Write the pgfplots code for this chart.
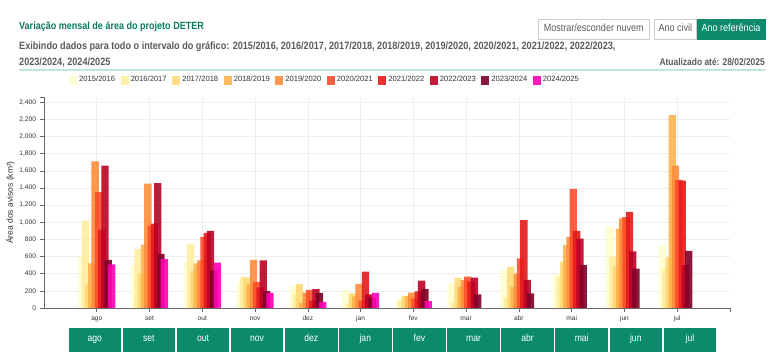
\documentclass[border=0pt]{standalone}
\usepackage{fontspec}
\setmainfont{Liberation Sans}
\newfontfamily\cond{Liberation Sans}[FakeStretch=0.86]
\usepackage{pgfplots}
\pgfplotsset{compat=1.18}
\usepackage{pgfplotstable}

\definecolor{c1}{HTML}{FFFFCC}
\definecolor{c2}{HTML}{FFEDA0}
\definecolor{c3}{HTML}{FED976}
\definecolor{c4}{HTML}{FEB24C}
\definecolor{c5}{HTML}{FD8D3C}
\definecolor{c6}{HTML}{FC4E2A}
\definecolor{c7}{HTML}{E31A1C}
\definecolor{c8}{HTML}{BD0026}
\definecolor{c9}{HTML}{800026}
\definecolor{c10}{HTML}{FF00B4}
\definecolor{tgreen}{HTML}{0B7A5E}
\definecolor{bgreen}{HTML}{0C8A6C}
\definecolor{subgray}{HTML}{5A5A5A}
\definecolor{tealline}{HTML}{BFE6D8}
\definecolor{gridc}{HTML}{EEEEEE}
\definecolor{axc}{HTML}{666666}
\definecolor{txt}{HTML}{333333}

\pgfplotstableread{
m a b c d e f g h i j
0 590 1020 275 520 1710 1350 915 1660 560 510
1 490 690 400 740 1450 960 985 1455 630 570
2 535 750 435 520 555 830 875 900 435 530
3 295 365 355 275 560 305 240 555 200 175
4 255 160 280 60 180 210 85 220 175 70
5 215 55 170 135 280 85 425 160 120 175
6 100 95 140 140 180 110 195 320 220 80
7 290 65 350 245 325 365 310 355 160 nan
8 440 125 480 245 400 580 1025 328 170 nan
9 395 360 545 735 830 1390 900 810 500 nan
10 950 600 485 925 1045 1060 1120 660 460 nan
11 735 450 590 2250 1660 1495 1485 500 665 nan
}\data

\begin{document}
\begin{tikzpicture}[x=1pt,y=1pt]
\path[use as bounding box] (0,0) rectangle (774,352);
% header
\node[anchor=base west, inner sep=0, text=tgreen, font=\cond\bfseries\fontsize{10.5}{12}\selectfont] at (19,322) {Variação mensal de área do projeto DETER};
\node[anchor=base west, inner sep=0, text=subgray, font=\cond\bfseries\fontsize{10.6}{12}\selectfont] at (19,302) {Exibindo dados para todo o intervalo do gráfico: 2015/2016, 2016/2017, 2017/2018, 2018/2019, 2019/2020, 2020/2021, 2021/2022, 2022/2023,};
\node[anchor=base west, inner sep=0, text=subgray, font=\cond\bfseries\fontsize{10.6}{12}\selectfont] at (19,286.5) {2023/2024, 2024/2025};
\node[anchor=base east, inner sep=0, text=subgray, font=\cond\bfseries\fontsize{9.8}{11}\selectfont] at (765,286.5) {Atualizado até: 28/02/2025};
\draw[tealline, line width=1.6pt] (19,282) -- (765,282);
% buttons
\node[anchor=north east, draw=bgreen, fill=bgreen, text=white, minimum height=20pt, inner xsep=4.5pt, text height=7.5pt, text depth=2pt, font=\cond\fontsize{10.5}{12}\selectfont] (b3) at (765,333) {Ano referência};
\node[anchor=north east, draw=gridc!70!gray, fill=white, text=subgray, minimum height=20pt, inner xsep=4.5pt, text height=7.5pt, text depth=2pt, font=\cond\fontsize{10.5}{12}\selectfont] (b2) at (b3.north west) {Ano civil};
\node[anchor=north east, draw=gridc!70!gray, fill=white, text=subgray, minimum height=20pt, inner xsep=6pt, text height=7.5pt, text depth=2pt, font=\cond\fontsize{10.5}{12}\selectfont] (b1) at ([xshift=-4pt]b2.north west) {Mostrar/esconder nuvem};
% y label
\node[rotate=90, text=txt, font=\fontsize{8.5}{10}\selectfont] at (10,149.5) {Área dos avisos (km²)};
% bottom month buttons
\foreach \m [count=\k from 0] in {ago,set,out,nov,dez,jan,fev,mar,abr,mai,jun,jul} {
  \fill[bgreen] ({68.5+\k*54.1},0) rectangle ++(52.6,24);
  \node[text=white, text height=7pt, text depth=2pt, font=\cond\fontsize{10}{12}\selectfont] at ({68.5+\k*54.1+26.3},12.5) {\m};
}
\begin{axis}[
  at={(44pt,44pt)}, anchor=south west, scale only axis,
  width=686pt, height=211pt,
  xmin=-1, xmax=12, ymin=0, ymax=2461,
  axis lines*=left,
  axis line style={axc, line width=0.6pt},
  xtick={0,...,11},
  xticklabels={ago,set,out,nov,dez,jan,fev,mar,abr,mai,jun,jul},
  ytick={0,200,...,2400},
  extra x ticks={12}, extra x tick labels={},
  extra y ticks={2461}, extra y tick labels={},
  extra tick style={grid=none},
  tick align=outside, major tick length=4pt,
  tick style={axc, line width=0.6pt},
  xmajorgrids, ymajorgrids,
  major grid style={gridc, line width=0.6pt},
  tick label style={text=txt, font=\fontsize{6.6}{8}\selectfont},
  xticklabel style={text height=5pt, text depth=1.5pt},
  yticklabel style={xshift=-0.5pt},
  /pgf/number format/.cd, 1000 sep={,}, assume math mode=true,
  /pgfplots/.cd,
  legend columns=10,
  legend image code/.code={\fill[#1] (0pt,-5.5pt) rectangle (8pt,3.5pt);},
  legend style={at={(0.0365,1.112)}, anchor=north west, draw=none, fill=none, inner sep=0pt,
    font=\fontsize{7.6}{8}\selectfont, text=txt,
    /tikz/every even column/.append style={column sep=3.6pt}},
  legend cell align=left,
  every axis plot/.append style={ybar, bar width=7.3pt, draw=none, fill opacity=0.9},
]
\addplot[fill=c1, bar shift=-14.85pt] table[x=m,y=a]{\data};
\addplot[fill=c2, bar shift=-11.55pt] table[x=m,y=b]{\data};
\addplot[fill=c3, bar shift=-8.25pt] table[x=m,y=c]{\data};
\addplot[fill=c4, bar shift=-4.95pt] table[x=m,y=d]{\data};
\addplot[fill=c5, bar shift=-1.65pt] table[x=m,y=e]{\data};
\addplot[fill=c6, bar shift=1.65pt] table[x=m,y=f]{\data};
\addplot[fill=c7, bar shift=4.95pt] table[x=m,y=g]{\data};
\addplot[fill=c8, bar shift=8.25pt] table[x=m,y=h]{\data};
\addplot[fill=c9, bar shift=11.55pt] table[x=m,y=i]{\data};
\addplot[fill=c10, bar shift=14.85pt] table[x=m,y=j]{\data};
\legend{2015/2016,2016/2017,2017/2018,2018/2019,2019/2020,2020/2021,2021/2022,2022/2023,2023/2024,2024/2025}
\end{axis}
\end{tikzpicture}
\end{document}
